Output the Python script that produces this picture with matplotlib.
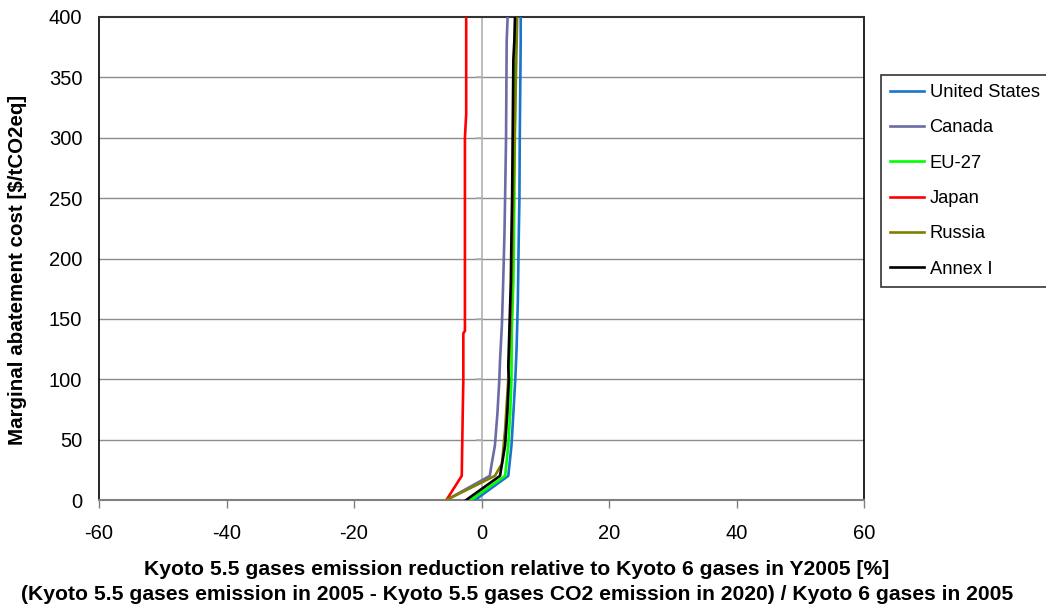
import matplotlib
matplotlib.use("Agg")
import matplotlib.pyplot as plt

plt.rcParams['font.family'] = ['Liberation Sans', 'DejaVu Sans']
plt.rcParams['axes.unicode_minus'] = False

# ---- data ----
series_names = ["United States", "Canada", "EU-27", "Japan", "Russia", "Annex I"]
series_colors = ["#1874CD", "#6B6BA6", "#00FF00", "#FF0000", "#808000", "#000000"]

us_y = [0, 20, 45, 72, 100, 125, 165, 220, 250, 300, 380, 400]
us_x = [-1.0, 4.2, 4.7, 5.0, 5.3, 5.5, 5.7, 5.85, 5.95, 6.0, 6.15, 6.15]

canada_y = [0, 20, 30, 45, 72, 100, 115, 145, 180, 220, 250, 300, 380, 400]
canada_x = [-5.5, 1.3, 1.6, 2.1, 2.5, 2.8, 2.9, 3.2, 3.4, 3.6, 3.7, 3.85, 3.95, 4.1]

eu_y = [0, 20, 45, 72, 100, 140, 180, 250, 400]
eu_x = [-1.7, 3.7, 4.2, 4.5, 4.7, 4.75, 5.0, 5.15, 5.4]

japan_y = [0, 20, 70, 100, 138, 140, 300, 320, 400]
japan_x = [-5.5, -3.1, -2.95, -2.85, -2.85, -2.6, -2.6, -2.4, -2.4]

russia_y = [0, 20, 30, 58, 100, 150, 250, 400]
russia_x = [-5.5, 2.1, 3.2, 3.7, 4.2, 4.6, 5.0, 5.6]

annex_y = [0, 20, 45, 72, 100, 110, 146, 180, 220, 250, 365, 380, 400]
annex_x = [-2.4, 2.9, 3.7, 4.05, 4.3, 4.2, 4.4, 4.6, 4.7, 4.8, 5.0, 5.15, 5.25]

xs = [us_x, canada_x, eu_x, japan_x, russia_x, annex_x]
ys = [us_y, canada_y, eu_y, japan_y, russia_y, annex_y]

x_ticks = [-60, -40, -20, 0, 20, 40, 60]
y_ticks = [0, 50, 100, 150, 200, 250, 300, 350, 400]

xlabel = ("Kyoto 5.5 gases emission reduction relative to Kyoto 6 gases in Y2005 [%]\n"
          "(Kyoto 5.5 gases emission in 2005 - Kyoto 5.5 gases CO2 emission in 2020) / Kyoto 6 gases in 2005")
ylabel = "Marginal abatement cost [$/tCO2eq]"

# ---- figure ----
fig = plt.figure(figsize=(10.46, 6.11), dpi=100)
ax = fig.add_axes([99/1046, 111/611, 765/1046, 483/611])

for yv in y_ticks[1:-1]:
    ax.axhline(yv, color="#8c8c8c", lw=1.0, zorder=1)
ax.axvline(0, color="#b0b0b0", lw=1.2, zorder=1)
for yv in y_ticks:
    ax.plot([-0.7, 0], [yv, yv], color="#b0b0b0", lw=1.2, zorder=1)

for x, y, name, c in zip(xs, ys, series_names, series_colors):
    ax.plot(x, y, color=c, lw=1.9, label=name, zorder=3)

ax.set_xlim(-60, 60)
ax.set_ylim(0, 400)
ax.set_xticks(x_ticks)
ax.set_yticks(y_ticks)
ax.tick_params(axis='x', length=6, width=1, color="#808080", labelsize=14.5, pad=11)
ax.tick_params(axis='y', length=0, labelsize=14.5, pad=12)

for s in ['left', 'right']:
    ax.spines[s].set_color('black')
    ax.spines[s].set_linewidth(1.2)
ax.spines['top'].set_color('#333333')
ax.spines['top'].set_linewidth(1.5)
ax.spines['bottom'].set_color('#808080')
ax.spines['bottom'].set_linewidth(1.5)

ax.set_xlabel(xlabel, fontsize=15.2, fontweight='bold', linespacing=1.43)
ax.xaxis.set_label_coords((517 - 99) / 765, -(582 - 500) / 483)
ax.xaxis.label.set_verticalalignment('center')
ax.set_ylabel(ylabel, fontsize=14.8, fontweight='bold')
ax.yaxis.set_label_coords((18 - 99) / 765, (500 - 270) / 483)
ax.yaxis.label.set_verticalalignment('center')

leg = ax.legend(loc='upper left', bbox_to_anchor=(881/1046, 536/611),
                bbox_transform=fig.transFigure, fontsize=13.2, frameon=True,
                fancybox=False, edgecolor='black', handlelength=1.85,
                handletextpad=0.3, labelspacing=1.0, borderpad=0.5,
                borderaxespad=0)
leg.get_frame().set_linewidth(1.2)

fig.savefig("out.png", dpi=100)
